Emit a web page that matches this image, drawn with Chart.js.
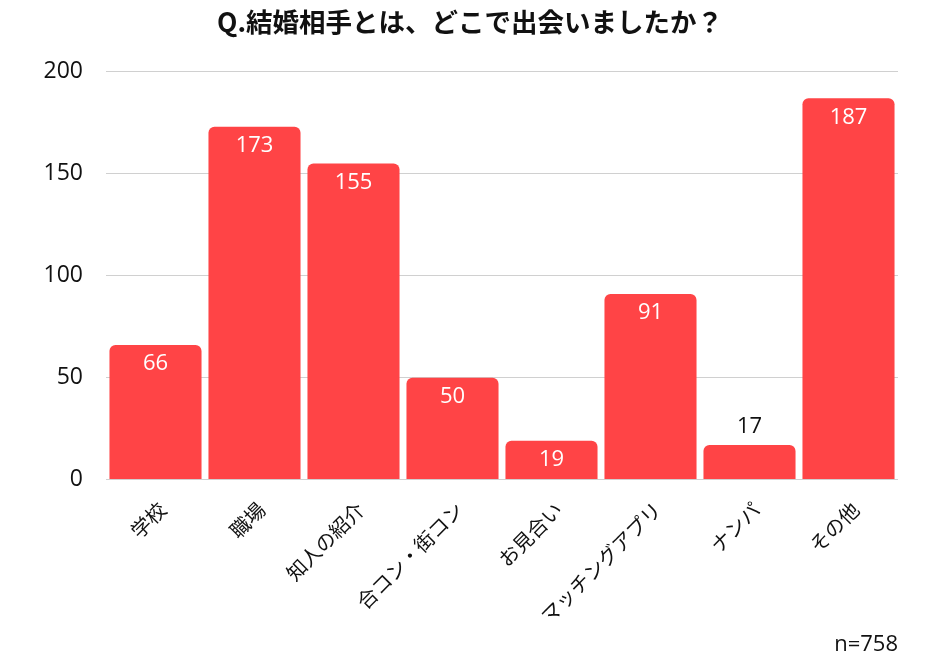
<!DOCTYPE html>
<html><head><meta charset="utf-8">
<script src="https://cdn.jsdelivr.net/npm/chart.js@4/dist/chart.umd.min.js"></script>
<style>html,body{margin:0;padding:0;background:#fff;}#c{display:block;}</style>
</head><body>
<canvas id="c" width="940" height="662"></canvas>
<script>
const categories = ["学校","職場","知人の紹介","合コン・街コン","お見合い","マッチングアプリ","ナンパ","その他"];
const counts = [66,173,155,50,19,91,17,187];
const yTicks = [0,50,100,150,200];
const titleText = "Q.結婚相手とは、どこで出会いましたか？";
const noteText = "n=758";

const barColor = "rgb(255,68,70)";
const valueLabels = {
  id: "valueLabels",
  afterDatasetsDraw(chart) {
    const ctx = chart.ctx;
    const meta = chart.getDatasetMeta(0);
    ctx.save();
    ctx.font = "22px 'Open Sans'";
    ctx.textAlign = "center";
    ctx.textBaseline = "middle";
    meta.data.forEach((bar, i) => {
      const h = bar.base - bar.y;
      const v = String(counts[i]);
      if (h < 36) {
        ctx.fillStyle = "#111";
        ctx.fillText(v, bar.x, bar.y - 18);
      } else {
        ctx.fillStyle = "#fff";
        ctx.fillText(v, bar.x, bar.y + 19);
      }
    });
    ctx.restore();
  }
};

new Chart(document.getElementById("c"), {
  type: "bar",
  data: {
    labels: categories,
    datasets: [{
      data: counts,
      backgroundColor: barColor,
      borderRadius: {topLeft: 6, topRight: 6, bottomLeft: 0, bottomRight: 0},
      borderSkipped: "bottom",
      barPercentage: 0.93,
      categoryPercentage: 1.0
    }]
  },
  options: {
    responsive: false,
    animation: false,
    layout: {padding: {left: 42, right: 42, top: 0, bottom: 4}},
    plugins: {
      legend: {display: false},
      tooltip: {enabled: false},
      title: {
        display: true, text: titleText, color: "#111",
        font: {family: "'Noto Sans CJK JP'", size: 26.5, weight: "bold"},
        padding: {top: 6, bottom: 34}
      },
      subtitle: {
        display: true, text: noteText, position: "bottom", align: "end",
        color: "#111", font: {family: "'Open Sans'", size: 22},
        padding: {top: 0, bottom: 0}
      }
    },
    scales: {
      x: {
        grid: {display: false},
        border: {display: false},
        afterFit(scale) { scale.height = 152; },
        ticks: {
          color: "#111", minRotation: 45, maxRotation: 45,
          font: {family: "'Noto Sans CJK JP'", size: 20}, padding: 10, labelOffset: 7
        }
      },
      y: {
        min: 0, max: 200,
        afterBuildTicks(scale) { scale.ticks = yTicks.map(v => ({value: v})); },
        afterFit(scale) { scale.width = 64; },
        grid: {color: "#d0d0d0", drawTicks: false, lineWidth: 1},
        border: {display: false},
        ticks: {color: "#111", font: {family: "'Open Sans'", size: 23}, padding: 23}
      }
    }
  },
  plugins: [valueLabels]
});
</script>
</body></html>
